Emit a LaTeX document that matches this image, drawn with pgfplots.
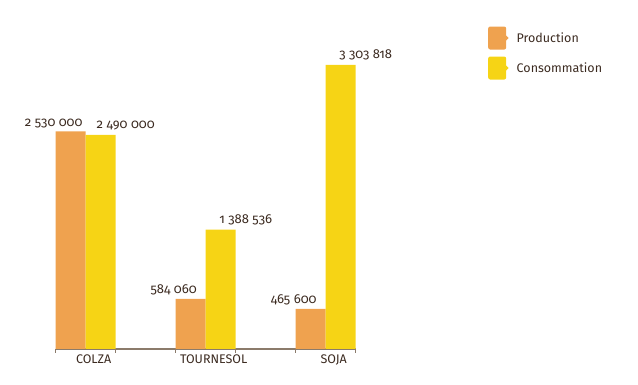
\documentclass[border=0pt]{standalone}
\usepackage{pgfplots}
\pgfplotsset{compat=1.18}
\usepackage{fontspec}
\setmainfont{Fira Sans}[Numbers=OldStyle]
\definecolor{prod}{HTML}{EFA24F}
\definecolor{conso}{HTML}{F6D415}
\definecolor{txt}{HTML}{3B2A20}
\definecolor{axisc}{HTML}{8B7B6B}
\begin{document}
\begin{tikzpicture}[x=1pt,y=1pt]
\path[use as bounding box] (0,0) rectangle (638,385);
\begin{axis}[
  at={(55.7pt,36pt)}, anchor=south west,
  scale only axis, width=300pt, height=301pt,
  ybar=0pt, bar width=30pt,
  xmin=-0.25, xmax=2.25, ymin=0, ymax=3500000,
  axis y line=none, axis x line*=bottom,
  x axis line style={axisc, line width=1.3pt, -},
  xtick={0,1,2}, xticklabels={COLZA,TOURNESOL,SOJA},
  major tick length=0pt,
  extra x ticks={-0.25,0.25,0.75,1.25,1.75,2.25},
  extra x tick labels={},
  extra x tick style={major tick length=4pt, tick align=outside, tick style={axisc, line width=1pt}},
  xticklabel style={font=\fontsize{12.5}{14}\selectfont, text=txt, xshift=8pt, yshift=-2pt},
  scaled y ticks=false,
  nodes near coords,
  nodes near coords style={font=\fontsize{13}{15}\selectfont, text=txt, anchor=south},
  point meta=explicit symbolic,
  legend style={at={(axis description cs:1.441,1.072)}, anchor=north west, draw=none, fill=none,
    font=\fontsize{12.5}{14}\selectfont, text=txt, row sep=7pt, column sep=6pt, inner sep=0pt},
  legend cell align=left,
  legend image code/.code={
    \path[draw=none, rounded corners=2pt] (0pt,-11.5pt) rectangle (18pt,11.5pt);
    \path[draw=none] (18pt,-2.5pt) -- (20.5pt,0pt) -- (18pt,2.5pt) -- cycle;
  },
]
\addplot[fill=prod, draw=none, nodes near coords style={xshift=-17pt}] coordinates {
  (0,2530000) [2 530 000]
  (1,584060) [584 060]
  (2,465600) [465 600]
};
\addplot[fill=conso, draw=none, nodes near coords style={xshift=25pt, yshift=1pt}] coordinates {
  (0,2490000) [2 490 000]
  (1,1388536) [1 388 536]
  (2,3303818) [3 303 818]
};
\legend{Production, Consommation}
\end{axis}
\end{tikzpicture}
\end{document}
